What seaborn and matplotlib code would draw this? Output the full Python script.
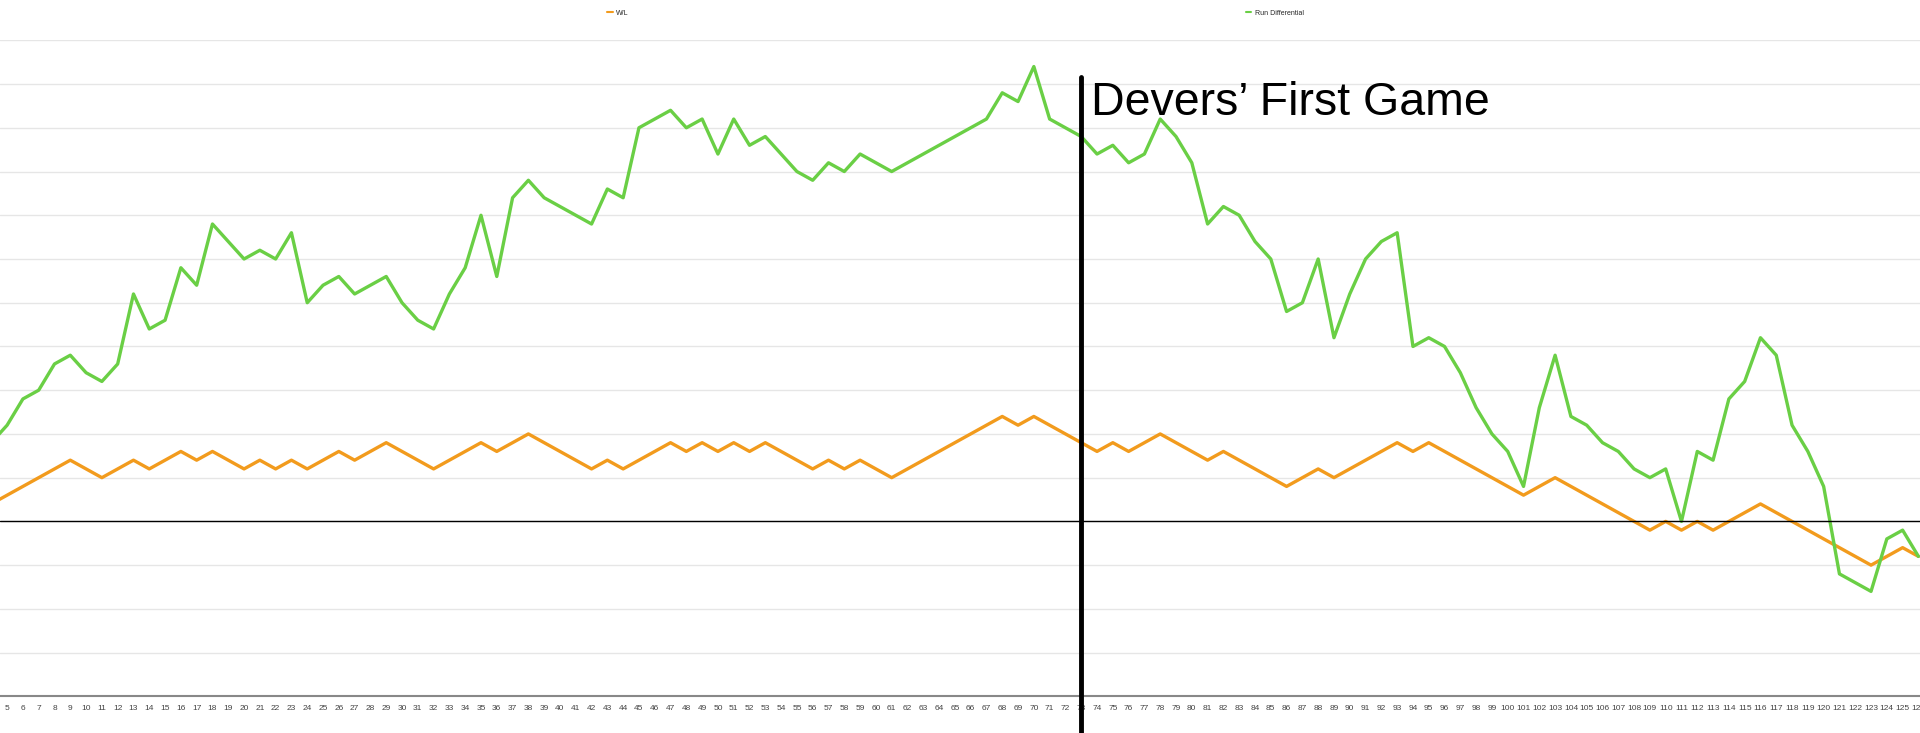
import pandas as pd
import matplotlib.pyplot as plt
import seaborn as sns
from matplotlib.lines import Line2D

# games 4..126
games = list(range(4, 127))
run_diff = [9, 11, 14, 15, 18, 19, 17, 16, 18, 26, 22, 23, 29, 27, 34, 32, 30, 31, 30, 33,
            25, 27, 28, 26, 27, 28, 25, 23, 22, 26, 29, 35, 28, 37, 39, 37, 36, 35, 34, 38,
            37, 45, 46, 47, 45, 46, 42, 46, 43, 44, 42, 40, 39, 41, 40, 42, 41, 40, 41, 42,
            43, 44, 45, 46, 49, 48, 52, 46, 45, 44, 42, 43, 41, 42, 46, 44, 41, 34, 36, 35,
            32, 30, 24, 25, 30, 21, 26, 30, 32, 33, 20, 21, 20, 17, 13, 10, 8, 4, 13, 19,
            12, 11, 9, 8, 6, 5, 6, 0, 8, 7, 14, 16, 21, 19, 11, 8, 4, -6, -7, -8,
            -2, -1, -4]
win_loss = [2, 3, 4, 5, 6, 7, 6, 5, 6, 7, 6, 7, 8, 7, 8, 7, 6, 7, 6, 7,
            6, 7, 8, 7, 8, 9, 8, 7, 6, 7, 8, 9, 8, 9, 10, 9, 8, 7, 6, 7,
            6, 7, 8, 9, 8, 9, 8, 9, 8, 9, 8, 7, 6, 7, 6, 7, 6, 5, 6, 7,
            8, 9, 10, 11, 12, 11, 12, 11, 10, 9, 8, 9, 8, 9, 10, 9, 8, 7, 8, 7,
            6, 5, 4, 5, 6, 5, 6, 7, 8, 9, 8, 9, 8, 7, 6, 5, 4, 3, 4, 5,
            4, 3, 2, 1, 0, -1, 0, -1, 0, -1, 0, 1, 2, 1, 0, -1, -2, -3, -4, -5,
            -4, -3, -4]
devers_game = 73

df = pd.DataFrame({"Game": games, "W/L": win_loss, "Run Differential": run_diff})

sns.set_style("white")
plt.rcParams['font.family'] = ['Liberation Sans', 'DejaVu Sans']
fig = plt.figure(figsize=(19.2, 7.33), dpi=100)
ax = fig.add_axes([0, 0.05, 1, 0.895])

orange = "#F29B1D"
green = "#6ACF45"
sns.lineplot(data=df, x="Game", y="W/L", color=orange, lw=2.4, ax=ax)
sns.lineplot(data=df, x="Game", y="Run Differential", color=green, lw=2.4, ax=ax)

ax.set_xlim(4.55, 126.1)
ax.set_ylim(-20, 55)
ax.set_yticks(range(-20, 56, 5))
ax.yaxis.grid(True, color="#e6e6e6", lw=1)
ax.set_yticklabels([])
ax.tick_params(axis="y", length=0)
ax.set_xticks(games[1:])
ax.set_xticklabels([str(g) for g in games[1:]], fontsize=6, color="#444444")
ax.tick_params(axis="x", length=0, pad=6)
ax.set_xlabel("")
ax.set_ylabel("")
for s in ["top", "left", "right"]:
    ax.spines[s].set_visible(False)
ax.spines["bottom"].set_color("#888888")
ax.spines["bottom"].set_linewidth(1.5)

ax.axhline(0, color="black", lw=1)
ax.plot([devers_game, devers_game], [-24.5, 50.8], color="black", lw=3.5, clip_on=False, zorder=5)
ax.text(devers_game + 0.6, 47.8, "Devers\u2019 First Game", fontsize=33.5, va="center", ha="left",
        color="black")

fig.legend(handles=[Line2D([], [], color=orange, lw=1.5)], labels=["W/L"],
           loc="center", bbox_to_anchor=(0.322, 0.982), frameon=False, fontsize=5,
           handlelength=0.8, handletextpad=0.5)
fig.legend(handles=[Line2D([], [], color=green, lw=1.5)], labels=["Run Differential"],
           loc="center", bbox_to_anchor=(0.664, 0.982), frameon=False, fontsize=5,
           handlelength=0.8, handletextpad=0.5)

fig.savefig("out.png", dpi=100)
